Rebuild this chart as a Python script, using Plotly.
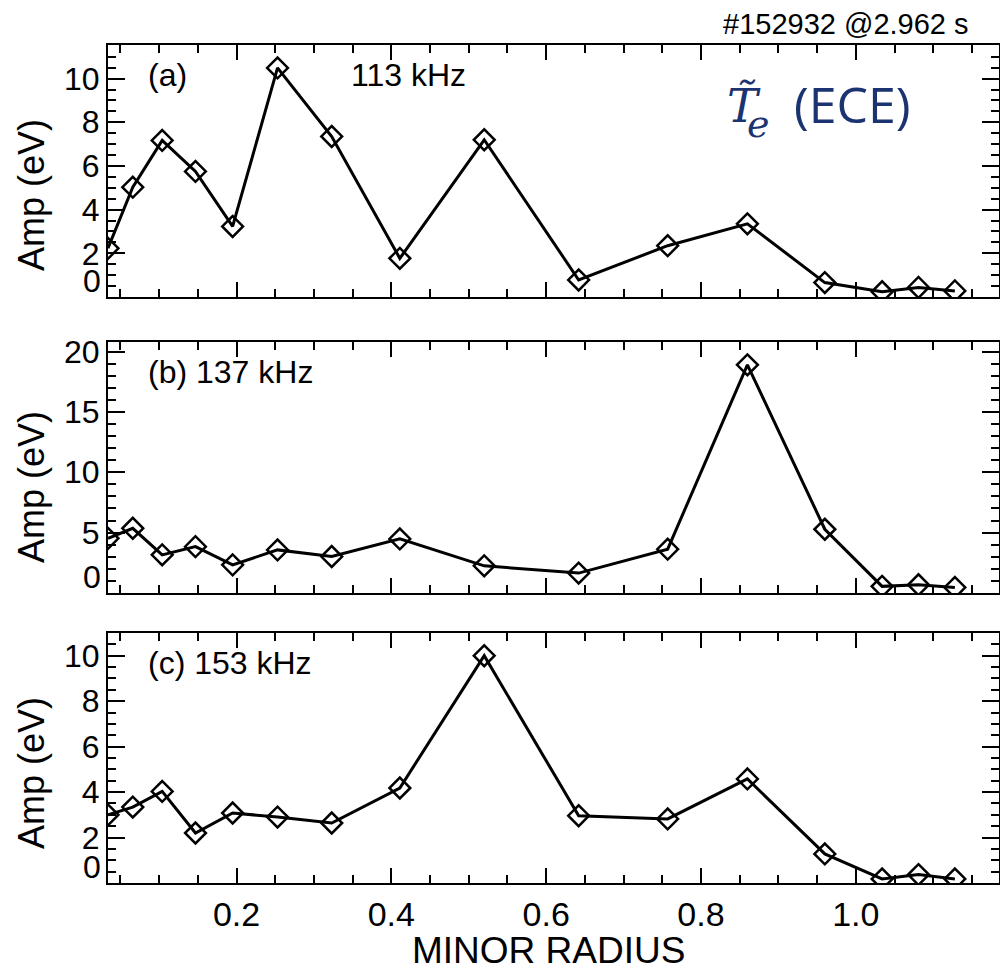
import plotly.graph_objects as go

# Minor-radius positions of the ECE channels
radius = [0.034, 0.066, 0.104, 0.147, 0.195, 0.253, 0.323, 0.411,
          0.520, 0.642, 0.757, 0.860, 0.960, 1.034, 1.081, 1.128]

# Fluctuation amplitudes (eV) for each mode frequency
amp_113 = [2.23, 5.03, 7.17, 5.75, 3.23, 10.49, 7.35, 1.77,
           7.20, 0.78, 2.35, 3.35, 0.66, 0.24, 0.44, 0.28]
amp_137 = [4.53, 5.36, 3.16, 3.84, 2.33, 3.57, 3.02, 4.48,
           2.25, 1.65, 3.63, 18.9, 5.28, 0.55, 0.68, 0.46]
amp_153 = [3.00, 3.34, 4.03, 2.20, 3.08, 2.90, 2.64, 4.18,
           10.0, 2.96, 2.82, 4.58, 1.28, 0.18, 0.37, 0.18]

panel_tags = ["(a)", "(b) 137 kHz", "(c) 153 kHz"]
freq_tag_a = "113 kHz"
y_tick_steps = [2, 5, 2]
y_minor_steps = [0.5, 1, 0.5]
x_ticks = [0.2, 0.4, 0.6, 0.8, 1.0]
x_ticktext = ["0.2", "0.4", "0.6", "0.8", "1.0"]

FONT = "Liberation Sans, Arial, sans-serif"
SERIF = "DejaVu Serif, Liberation Serif, serif"
NAVY = "#1b3370"
W, H = 1000, 973

# panel frames in pixels: (top, bottom)
frames = [(45, 297), (342, 593), (633, 883)]
title_centers = [195, 487, 773]
x_left, x_right = 108, 999

series = [amp_113, amp_137, amp_153]
xr = [0.034, 1.185]

fig = go.Figure()
for i, amp in enumerate(series):
    n = "" if i == 0 else str(i + 1)
    fig.add_trace(go.Scatter(
        x=radius, y=amp, mode="lines+markers",
        xaxis="x" + n, yaxis="y" + n,
        line=dict(color="black", width=3),
        marker=dict(symbol="diamond-open", size=16, color="black",
                    line=dict(color="black", width=2.5)),
        showlegend=False,
    ))

layout = dict(
    width=W, height=H,
    margin=dict(l=0, r=0, t=0, b=0),
    paper_bgcolor="white", plot_bgcolor="white",
    font=dict(family=FONT, color="black"),
)

annotations = []
for i, amp in enumerate(series):
    n = "" if i == 0 else str(i + 1)
    top, bot = frames[i]
    dom_y = [1 - bot / H, 1 - top / H]
    ymax = max(amp) * 1.1
    step = y_tick_steps[i]
    tv = [v for v in range(step, int(ymax) + 1, step)]
    layout["xaxis" + n] = dict(
        domain=[x_left / W, x_right / W], range=xr,
        anchor="y" + n,
        showline=True, linecolor="black", linewidth=2, mirror="ticks",
        ticks="inside", ticklen=15, tickwidth=2, tickcolor="black",
        tickvals=x_ticks, ticktext=x_ticktext,
        showticklabels=(i == 2),
        tickfont=dict(size=34, family=FONT),
        minor=dict(dtick=0.05, tick0=0, ticks="inside", ticklen=8,
                   tickwidth=2, tickcolor="black"),
        showgrid=False, zeroline=False, automargin=False,
    )
    layout["yaxis" + n] = dict(
        domain=dom_y, range=[0, ymax], anchor="x" + n,
        showline=True, linecolor="black", linewidth=2, mirror="ticks",
        ticks="inside", ticklen=17, tickwidth=2, tickcolor="black",
        tickvals=tv, ticktext=[str(v) for v in tv],
        tickfont=dict(size=32, family=FONT),
        minor=dict(dtick=y_minor_steps[i], tick0=0, ticks="inside",
                   ticklen=8, tickwidth=2, tickcolor="black"),
        showgrid=False, zeroline=False, automargin=False,
    )
    # "0" label lifted clear of the panel's bottom edge
    annotations.append(dict(
        text="0", xref="paper", yref="y" + n, x=(x_left - 5) / W, y=0,
        xanchor="right", yanchor="middle", yshift=16, showarrow=False,
        font=dict(size=32, family=FONT),
    ))
    # y-axis title
    annotations.append(dict(
        text="Amp (eV)", xref="paper", yref="paper",
        x=31 / W, y=1 - title_centers[i] / H,
        textangle=-90, showarrow=False, xanchor="center", yanchor="middle",
        font=dict(size=36, family=FONT),
    ))
    # panel tag
    annotations.append(dict(
        text=panel_tags[i], xref="paper", yref="paper",
        x=146 / W, y=1 - (top + 30) / H,
        xanchor="left", yanchor="middle", showarrow=False,
        font=dict(size=32, family=FONT),
    ))

annotations.append(dict(
    text=freq_tag_a, xref="paper", yref="paper",
    x=349 / W, y=1 - 75 / H, xanchor="left", yanchor="middle",
    showarrow=False, font=dict(size=32, family=FONT),
))
annotations.append(dict(
    text="#152932 @2.962 s", xref="paper", yref="paper",
    x=971 / W, y=1 - 24 / H, xanchor="right", yanchor="middle",
    showarrow=False, font=dict(size=29, family=FONT),
))
annotations.append(dict(
    text="MINOR RADIUS", xref="paper", yref="paper",
    x=548 / W, y=0, xanchor="center", yanchor="bottom",
    showarrow=False, font=dict(size=37, family=FONT),
))
# fluctuating electron temperature label: T-tilde with a lowered e
annotations.append(dict(
    text="<i>T\u0303</i>", xref="paper", yref="paper",
    x=725 / W, y=1 - 106 / H, xanchor="left", yanchor="middle",
    showarrow=False,
    font=dict(size=46, family=SERIF, color=NAVY),
))
annotations.append(dict(
    text="<i>e</i>", xref="paper", yref="paper",
    x=745 / W, y=1 - 124 / H, xanchor="left", yanchor="middle",
    showarrow=False,
    font=dict(size=38, family=SERIF, color=NAVY),
))
annotations.append(dict(
    text="(ECE)", xref="paper", yref="paper",
    x=792 / W, y=1 - 104 / H, xanchor="left", yanchor="middle",
    showarrow=False,
    font=dict(size=50, family="Open Sans, Lato, sans-serif", color=NAVY),
))
layout["annotations"] = annotations

fig.update_layout(**layout)
fig.write_html("out.html")
